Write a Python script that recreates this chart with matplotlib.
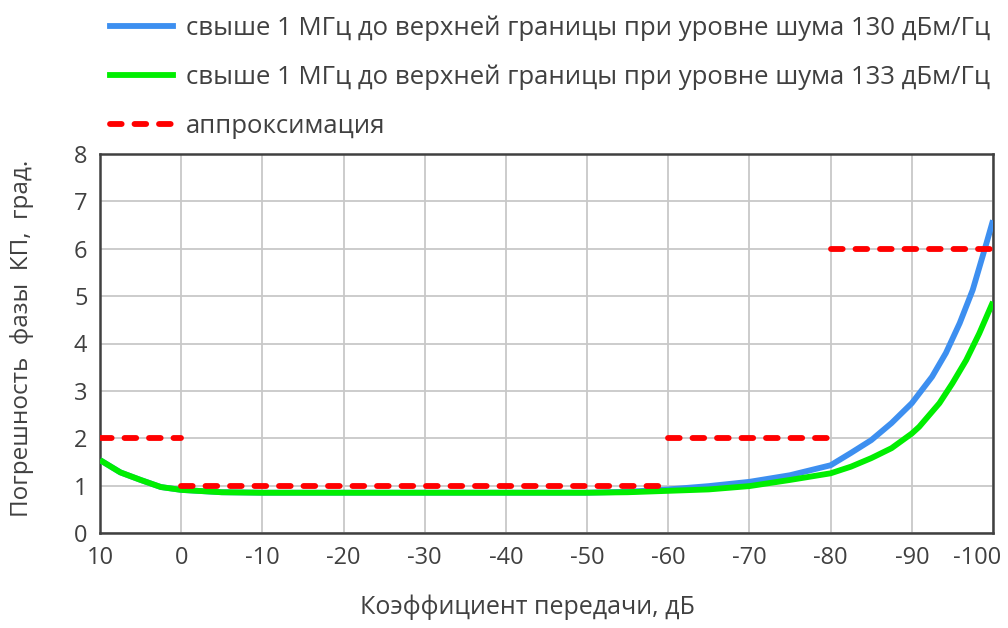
import matplotlib
matplotlib.use("Agg")
import matplotlib.pyplot as plt
from matplotlib.lines import Line2D
from matplotlib.transforms import ScaledTranslation

plt.rcParams['font.family'] = ['Open Sans', 'DejaVu Sans']

# data
x_gain = [10, 7.5, 5, 2.5, 0, -5, -10, -20, -30, -40, -50, -55, -60, -65, -70, -75, -80,
          -82.5, -85, -87.5, -90, -92.5, -94.2, -95.9, -97.5, -99.2, -100]
blue_130 = [1.54, 1.28, 1.12, 0.97, 0.91, 0.86, 0.85, 0.85, 0.85, 0.85, 0.85, 0.87, 0.92, 0.99, 1.08, 1.22, 1.43,
            1.69, 1.96, 2.32, 2.74, 3.3, 3.8, 4.43, 5.13, 6.12, 6.6]
x_gain_g = [10, 7.5, 5, 2.5, 0, -5, -10, -20, -30, -40, -50, -55, -60, -65, -70, -75, -80,
            -82.5, -85, -87.5, -90, -90.9, -93.4, -95, -96.7, -98.3, -100]
green_133 = [1.54, 1.28, 1.12, 0.97, 0.91, 0.86, 0.85, 0.85, 0.85, 0.85, 0.85, 0.86, 0.89, 0.92, 0.99, 1.12, 1.26,
             1.4, 1.58, 1.79, 2.1, 2.24, 2.74, 3.16, 3.65, 4.21, 4.88]
approx_x = [[10, 0], [0, -60], [-60, -80], [-80, -100]]
approx_y = [2, 1, 2, 6]

labels = ['свыше 1 МГц до верхней границы при уровне шума 130 дБм/Гц',
          'свыше 1 МГц до верхней границы при уровне шума 133 дБм/Гц',
          'аппроксимация']
xticks = [10, 0, -10, -20, -30, -40, -50, -60, -70, -80, -90, -100]
yticks = [0, 1, 2, 3, 4, 5, 6, 7, 8]

fig = plt.figure(figsize=(10.08, 6.28), dpi=100)
ax = fig.add_axes([100/1008, 1-533/628, (993-100)/1008, (533-154)/628])

blue = '#3d8ff0'
green = '#00ee00'
red = '#ff0000'
LW = 4.2
ax.plot(x_gain, blue_130, color=blue, lw=LW, solid_capstyle='butt', zorder=3)
ax.plot(x_gain_g, green_133, color=green, lw=LW, solid_capstyle='butt', zorder=4)
for xs, yv in zip(approx_x, approx_y):
    ax.plot(xs, [yv, yv], color=red, lw=LW, dashes=(2.0, 2.2), dash_capstyle='round', zorder=5)

ax.set_xlim(10, -100)
ax.set_ylim(0, 8)
ax.set_xticks(xticks)
ax.set_xticklabels([str(t) for t in xticks])
ax.set_yticks(yticks)
ax.grid(True, color='#c8c8c8', lw=1.3, zorder=0)
ax.set_axisbelow(True)
for s in ax.spines.values():
    s.set_color('#404040')
    s.set_linewidth(1.8)
ax.tick_params(length=0, labelsize=17, colors='#404040')
ax.tick_params(axis='x', pad=9)
ax.tick_params(axis='y', pad=9)
lab = ax.get_xticklabels()[-1]
lab.set_transform(lab.get_transform() + ScaledTranslation(-16/100, 0, fig.dpi_scale_trans))

fig.text(527/1008, 1-607/628, 'Коэффициент передачи, дБ', fontsize=18, color='#404040',
         ha='center', va='center')
fig.text(22/1008, 1-338/628, 'Погрешность  фазы  КП,  град.', fontsize=17.5, color='#404040',
         ha='center', va='center', rotation=90)

handles = [Line2D([], [], color=blue, lw=LW),
           Line2D([], [], color=green, lw=LW),
           Line2D([], [], color=red, lw=LW, dashes=(2.0, 2.2), dash_capstyle='round')]
fig.legend(handles, labels, loc='upper left', bbox_to_anchor=(87/1008, 1.0 + 8/628),
           frameon=False, fontsize=18.5, handlelength=2.45, handletextpad=0.5,
           labelspacing=0.93, labelcolor='#404040')

fig.savefig('out.png', dpi=100)
